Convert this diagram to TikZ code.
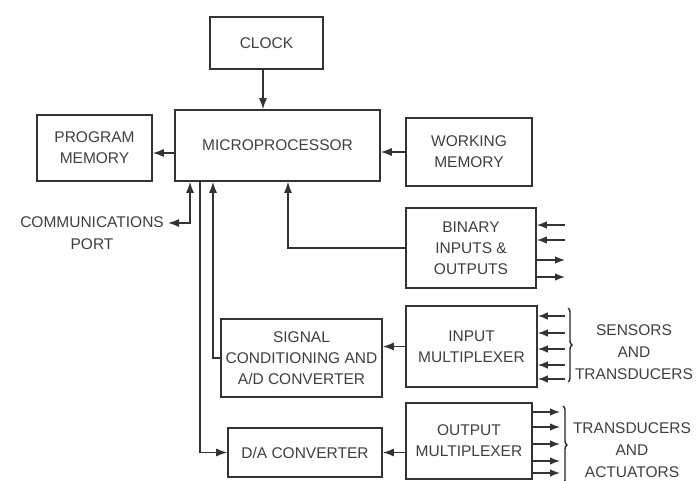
\documentclass[tikz,border=0pt]{standalone}
\usepackage{fontspec}
\setmainfont{Liberation Sans}
\usetikzlibrary{arrows.meta,decorations.pathreplacing}
\begin{document}
\begin{tikzpicture}[x=1pt,y=-1pt,
  blk/.style={draw=black!80,line width=1.6pt,rectangle,inner sep=0pt,align=center,
    font=\fontsize{15.5}{21}\selectfont,text=black!75},
  lbl/.style={inner sep=0pt,align=center,font=\fontsize{15.5}{22}\selectfont,text=black!75},
  con/.style={draw=black!80,line width=1.4pt,-{Latex[length=11pt,width=8pt]}},
  bcon/.style={draw=black!80,line width=1.4pt,{Latex[length=11pt,width=8pt]}-{Latex[length=11pt,width=8pt]}},
  pin/.style={draw=black!80,line width=1.4pt,-{Latex[length=10pt,width=7.5pt]}},
  brc/.style={draw=black!85,line width=1.4pt,decorate,decoration={brace,amplitude=4pt}}]
\useasboundingbox (0,0) rectangle (696,481);
\fill[white] (0,0) rectangle (696,481);

\node[blk,minimum width=113pt,minimum height=52pt] (clock) at (266.5,43) {CLOCK};
\node[blk,minimum width=205pt,minimum height=71pt] (micro) at (277.5,145.5) {MICROPROCESSOR};
\node[blk,minimum width=115pt,minimum height=66pt] (pm) at (94.5,148) {PROGRAM\\MEMORY};
\node[blk,minimum width=126pt,minimum height=68pt] (wm) at (469,152) {WORKING\\MEMORY};
\node[blk,minimum width=130pt,minimum height=80pt] (bin) at (471,248) {BINARY\\INPUTS \&\\OUTPUTS};
\node[blk,minimum width=161pt,minimum height=78pt] (sig) at (301.5,358) {SIGNAL\\CONDITIONING AND\\A/D CONVERTER};
\node[blk,minimum width=154pt,minimum height=49pt] (dac) at (305,452.5) {D/A CONVERTER};
\node[blk,minimum width=131pt,minimum height=81pt] (imux) at (471.5,346.5) {INPUT\\MULTIPLEXER};
\node[blk,minimum width=126pt,minimum height=76pt] (omux) at (469,441) {OUTPUT\\MULTIPLEXER};

\node[lbl,anchor=north east] (comm) at (164,216) {COMMUNICATIONS\\PORT};
\node[lbl] (sens) at (634,352) {SENSORS\\AND\\TRANSDUCERS};
\node[lbl] (act) at (632,450) {TRANSDUCERS\\AND\\ACTUATORS};

\coordinate (x190) at (190,0);
\coordinate (x200) at (200,0);
\coordinate (x213) at (213,0);
\coordinate (x263) at (263,0);
\coordinate (x288) at (288,0);
\coordinate (y153) at (0,153);
\coordinate (cp) at (168,223);

\draw[con] (clock.south -| x263) -- (micro.north -| x263);
\draw[con] (micro.west |- y153) -- (pm.east |- y153);
\draw[con] (wm.west) -- (micro.east |- wm.west);
\draw[bcon] (cp) -| (micro.south -| x190);
\draw[con] (bin.west) -| (micro.south -| x288);
\draw[con] (sig.west) -| (micro.south -| x213);
\draw[con] (micro.south -| x200) |- (dac.west);
\draw[con] (imux.west) -- (sig.east |- imux.west);
\draw[con] (omux.west |- dac.east) -- (dac.east);

% binary inputs/outputs
\foreach \yy in {225,240} {
  \coordinate (bi\yy) at (565,\yy);
  \draw[pin] (bi\yy) -- (bin.east |- bi\yy);
}
\foreach \yy in {260,277} {
  \coordinate (bo\yy) at (565,\yy);
  \draw[pin] (bin.east |- bo\yy) -- (bo\yy);
}
% input multiplexer
\foreach \yy in {316,333,349,365,379} {
  \coordinate (ii\yy) at (565,\yy);
  \draw[pin] (ii\yy) -- (imux.east |- ii\yy);
}
% output multiplexer
\foreach \yy in {412,427,444,461,473} {
  \coordinate (oo\yy) at (560,\yy);
  \draw[pin] (omux.east |- oo\yy) -- (oo\yy);
}
\coordinate (b1t) at (568,308);
\coordinate (b1b) at (568,382);
\draw[brc] (b1t) -- (b1b);
\coordinate (b2t) at (563,406);
\coordinate (b2b) at (563,484);
\draw[brc] (b2t) -- (b2b);
\end{tikzpicture}
\end{document}
